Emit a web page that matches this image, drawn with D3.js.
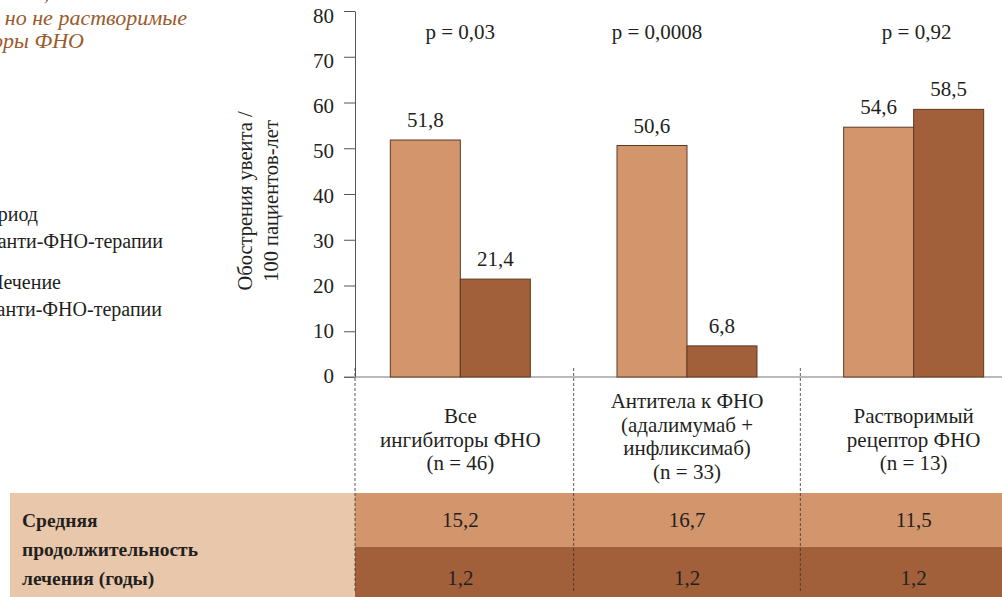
<!DOCTYPE html>
<html>
<head>
<meta charset="utf-8">
<script src="https://cdn.jsdelivr.net/npm/d3@7"></script>
<style>
  html, body { margin: 0; padding: 0; background: #fff; overflow: hidden; }
  svg text { font-family: "Liberation Serif", "Times New Roman", Tinos, "DejaVu Serif", "Noto Serif", serif !important; }
</style>
</head>
<body>
<svg id="chart" width="1002" height="597"></svg>
<script>
// Uveitis flares per 100 patient-years, before vs. during anti-TNF therapy
const categories = ["all", "antibodies", "receptor"];
const categoryLabels = [
  ["Все", "ингибиторы ФНО", "(n = 46)"],
  ["Антитела к ФНО", "(адалимумаб +", "инфликсимаб)", "(n = 33)"],
  ["Растворимый", "рецептор ФНО", "(n = 13)"]
];
const series = ["before", "during"];
const beforeValues = [51.8, 50.6, 54.6];
const duringValues = [21.4, 6.8, 58.5];
const pValues = ["p = 0,03", "p = 0,0008", "p = 0,92"];
const yTicks = [0, 10, 20, 30, 40, 50, 60, 70, 80];
const durationBefore = ["15,2", "16,7", "11,5"];
const durationDuring = ["1,2", "1,2", "1,2"];

const fmt = v => String(v).replace(".", ",");
const colors = { before: "#d3956b", during: "#a2603a" };

const svg = d3.select("#chart");

const x0 = d3.scaleBand().domain(categories).range([347, 1027]);
const bw = x0.bandwidth();
const x1 = d3.scaleBand().domain(series).range([bw / 2 - 70, bw / 2 + 70]);
const y = d3.scaleLinear().domain([0, 80]).range([377, 11]);

// Caption and legend text running in from the left edge
const caption = svg.append("g").attr("fill", "#9b5a2b")
  .attr("font-style", "italic").attr("font-size", 22).attr("text-anchor", "end");
caption.append("text").attr("x", 203).attr("y", 0).text("ингибиторы ФНО, но не антитела");
caption.append("text").attr("x", 187).attr("y", 25).text("к ФНО, но не растворимые");
caption.append("text").attr("x", 84).attr("y", 48).text("рецепторы ФНО");

const legend = svg.append("g").attr("fill", "#231f20")
  .attr("font-size", 20).attr("text-anchor", "end");
legend.append("text").attr("x", 38).attr("y", 221).text("Период");
legend.append("text").attr("x", 163).attr("y", 248).text("до анти-ФНО-терапии");
legend.append("text").attr("x", 61).attr("y", 289).text("Лечение");
legend.append("text").attr("x", 162).attr("y", 316).text("во время анти-ФНО-терапии");

// Y axis
const yAxis = svg.append("g").attr("transform", "translate(355,0)")
  .call(d3.axisLeft(y).tickValues(yTicks).tickSize(11).tickPadding(10).tickSizeOuter(0));
yAxis.select(".domain").attr("stroke", "#555").attr("stroke-width", 1);
yAxis.selectAll(".tick line").attr("stroke", "#555");
yAxis.selectAll(".tick text")
  .attr("font-size", 21).attr("fill", "#231f20")
  .attr("dy", d => (0.32 * 21 + 6 * d / 80 - 1) + "px");

// Y axis title
const yTitle = svg.append("text")
  .attr("transform", "translate(245,201) rotate(-90)")
  .attr("text-anchor", "middle").attr("font-size", 20.5).attr("fill", "#231f20");
yTitle.append("tspan").attr("x", 0).attr("dy", "0.35em").text("Обострения увеита /");
yTitle.append("tspan").attr("x", 0).attr("dy", "1.28em").text("100 пациентов-лет");

// Table background
const tableTop = 493, rowSplit = 547, tableBottom = 597;
svg.append("rect").attr("x", 10).attr("y", tableTop).attr("width", 345)
  .attr("height", tableBottom - tableTop).attr("fill", "#e9c7aa");
svg.append("rect").attr("x", 355).attr("y", tableTop).attr("width", 647)
  .attr("height", rowSplit - tableTop).attr("fill", colors.before);
svg.append("rect").attr("x", 355).attr("y", rowSplit).attr("width", 647)
  .attr("height", tableBottom - rowSplit).attr("fill", colors.during);

// Dashed group separators
const separators = [355, x0(categories[1]), x0(categories[2])];
svg.append("g").selectAll("line").data(separators).join("line")
  .attr("x1", d => d).attr("x2", d => d)
  .attr("y1", 368).attr("y2", 592)
  .attr("stroke", "#333").attr("stroke-width", 0.8).attr("stroke-dasharray", "3,2");

// Baseline
svg.append("line").attr("x1", 344).attr("x2", 1002).attr("y1", 377).attr("y2", 377)
  .attr("stroke", "#777").attr("stroke-width", 1.2);

// Bars
const rows = categories.map((c, i) => ({
  cat: c,
  vals: [{ s: "before", v: beforeValues[i] }, { s: "during", v: duringValues[i] }]
}));
const groups = svg.append("g").selectAll("g").data(rows).join("g")
  .attr("transform", d => `translate(${x0(d.cat)},0)`);
groups.selectAll("rect").data(d => d.vals).join("rect")
  .attr("x", d => x1(d.s)).attr("width", x1.bandwidth())
  .attr("y", d => y(d.v)).attr("height", d => y(0) - y(d.v))
  .attr("fill", d => colors[d.s]).attr("stroke", "#5e3a22").attr("stroke-width", 1);
groups.selectAll("text.val").data(d => d.vals).join("text")
  .attr("class", "val")
  .attr("x", d => x1(d.s) + x1.bandwidth() / 2)
  .attr("y", d => y(d.v) - 13)
  .attr("text-anchor", "middle").attr("font-size", 21).attr("fill", "#231f20")
  .text(d => fmt(d.v));

// p-values
const pOffsets = [0, -30, 3];
svg.append("g").selectAll("text").data(pValues).join("text")
  .attr("x", (d, i) => x0(categories[i]) + bw / 2 + pOffsets[i])
  .attr("y", 39).attr("text-anchor", "middle")
  .attr("font-size", 21).attr("fill", "#231f20").text(d => d);

// Category labels
svg.append("g").selectAll("text").data(categoryLabels).join("text")
  .attr("text-anchor", "middle").attr("font-size", 21).attr("fill", "#231f20")
  .attr("transform", (d, i) => `translate(${x0(categories[i]) + bw / 2},${d.length === 4 ? 401 : 416})`)
  .selectAll("tspan").data(d => d).join("tspan")
  .attr("x", 0).attr("dy", (d, i) => i === 0 ? "0.35em" : "1.12em").text(d => d);

// Table labels and values
const rowLabel = svg.append("text").attr("x", 22).attr("font-weight", "bold")
  .attr("font-size", 19.5).attr("fill", "#231f20");
["Средняя", "продолжительность", "лечения (годы)"].forEach((t, i) => {
  rowLabel.append("tspan").attr("x", 22).attr("y", 527 + i * 29).text(t);
});
svg.append("g").selectAll("text").data(durationBefore).join("text")
  .attr("x", (d, i) => x0(categories[i]) + bw / 2).attr("y", 527)
  .attr("text-anchor", "middle").attr("font-size", 21).attr("fill", "#231f20").text(d => d);
svg.append("g").selectAll("text").data(durationDuring).join("text")
  .attr("x", (d, i) => x0(categories[i]) + bw / 2).attr("y", 585)
  .attr("text-anchor", "middle").attr("font-size", 21).attr("fill", "#231f20").text(d => d);
</script>
</body>
</html>
